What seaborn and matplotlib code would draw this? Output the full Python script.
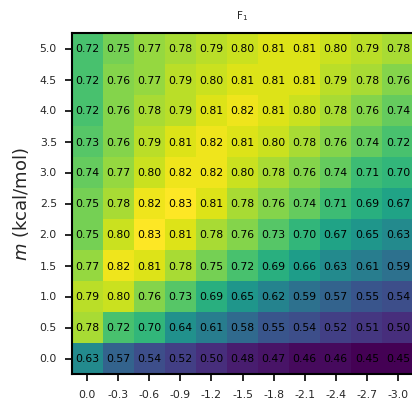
import matplotlib
matplotlib.use("Agg")
import matplotlib.pyplot as plt
import seaborn as sns
import numpy as np
import pandas as pd

x_labels = ["0.0", "-0.3", "-0.6", "-0.9", "-1.2", "-1.5", "-1.8", "-2.1", "-2.4", "-2.7", "-3.0"]
y_labels = ["5.0", "4.5", "4.0", "3.5", "3.0", "2.5", "2.0", "1.5", "1.0", "0.5", "0.0"]

row_50 = [0.72, 0.75, 0.77, 0.78, 0.79, 0.80, 0.81, 0.81, 0.80, 0.79, 0.78]
row_45 = [0.72, 0.76, 0.77, 0.79, 0.80, 0.81, 0.81, 0.81, 0.79, 0.78, 0.76]
row_40 = [0.72, 0.76, 0.78, 0.79, 0.81, 0.82, 0.81, 0.80, 0.78, 0.76, 0.74]
row_35 = [0.73, 0.76, 0.79, 0.81, 0.82, 0.81, 0.80, 0.78, 0.76, 0.74, 0.72]
row_30 = [0.74, 0.77, 0.80, 0.82, 0.82, 0.80, 0.78, 0.76, 0.74, 0.71, 0.70]
row_25 = [0.75, 0.78, 0.82, 0.83, 0.81, 0.78, 0.76, 0.74, 0.71, 0.69, 0.67]
row_20 = [0.75, 0.80, 0.83, 0.81, 0.78, 0.76, 0.73, 0.70, 0.67, 0.65, 0.63]
row_15 = [0.77, 0.82, 0.81, 0.78, 0.75, 0.72, 0.69, 0.66, 0.63, 0.61, 0.59]
row_10 = [0.79, 0.80, 0.76, 0.73, 0.69, 0.65, 0.62, 0.59, 0.57, 0.55, 0.54]
row_05 = [0.78, 0.72, 0.70, 0.64, 0.61, 0.58, 0.55, 0.54, 0.52, 0.51, 0.50]
row_00 = [0.63, 0.57, 0.54, 0.52, 0.50, 0.48, 0.47, 0.46, 0.46, 0.45, 0.45]

data = pd.DataFrame([row_50, row_45, row_40, row_35, row_30, row_25,
                     row_20, row_15, row_10, row_05, row_00],
                    index=y_labels, columns=x_labels)

sns.set_theme(style="ticks")
plt.rcParams['font.family'] = ['DejaVu Sans']

fig = plt.figure(figsize=(4.12, 4.02), dpi=100)
ax = fig.add_axes([71.5/412, 1 - 375/402, 342/412, 341/402])

sns.heatmap(data, ax=ax, cmap="viridis", annot=True, fmt=".2f",
            annot_kws={"fontsize": 7.8, "color": "black"}, cbar=False)

for t in ax.texts:
    t.set_color("black")

ax.set_title("F$_1$", fontsize=7.5, pad=11)
ax.set_ylabel("$m$ (kcal/mol)", fontsize=13, labelpad=6)
ax.set_xlabel("")
ax.tick_params(axis="both", labelsize=7.8, length=5, width=1.4, pad=5.5)
ax.set_yticklabels(y_labels, rotation=0)
ax.set_xticklabels(x_labels, rotation=0)
for s in ax.spines.values():
    s.set_visible(True)
    s.set_linewidth(1.5)
    s.set_color("black")

fig.savefig("out.png", dpi=100)
